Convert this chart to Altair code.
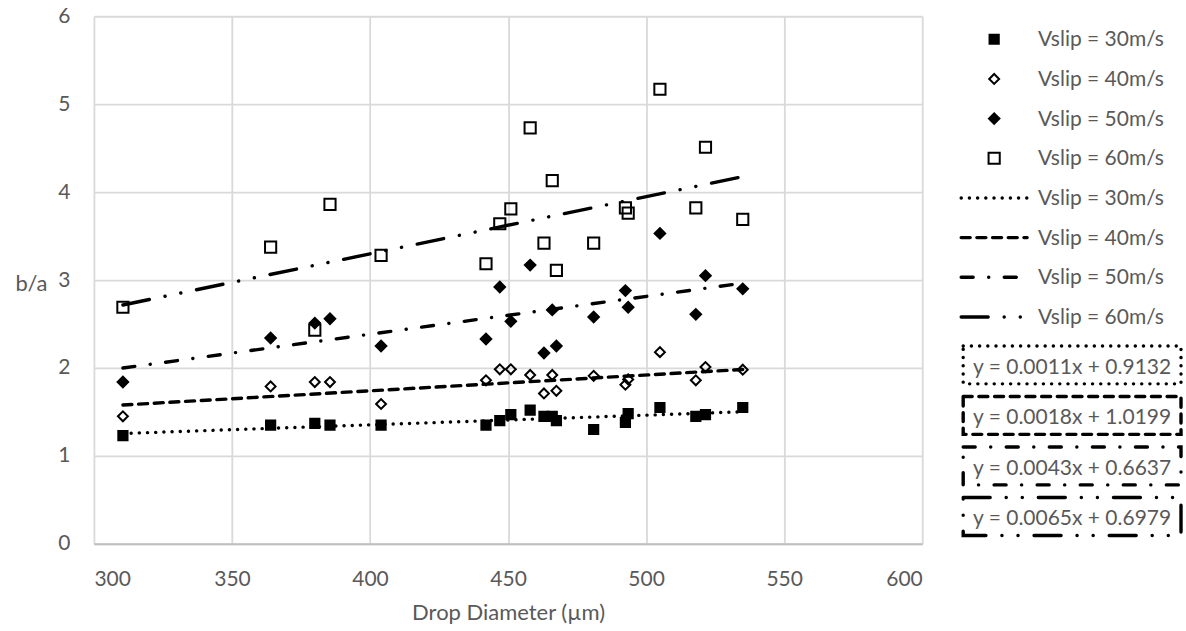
import altair as alt
import pandas as pd

# ---------------- data ----------------
diam = [310.5, 364, 380, 385.5, 404, 442, 447, 451, 458, 463, 466, 467.5,
        481, 492.5, 493.5, 505, 518, 521.5, 535]
ba_30 = [1.23, 1.35, 1.37, 1.35, 1.35, 1.35, 1.40, 1.47, 1.52, 1.45, 1.45, 1.40,
         1.30, 1.38, 1.48, 1.55, 1.45, 1.47, 1.55]
ba_40 = [1.45, 1.79, 1.84, 1.84, 1.59, 1.86, 1.985, 1.985, 1.92, 1.71, 1.92, 1.74,
         1.91, 1.81, 1.87, 2.18, 1.86, 2.01, 1.98]
ba_50 = [1.84, 2.34, 2.51, 2.56, 2.25, 2.33, 2.92, 2.53, 3.17, 2.17, 2.66, 2.25,
         2.58, 2.88, 2.69, 3.53, 2.61, 3.05, 2.90]
ba_60 = [2.69, 3.375, 2.43, 3.86, 3.28, 3.185, 3.64, 3.81, 4.73, 3.42, 4.13, 3.11,
         3.42, 3.82, 3.76, 5.17, 3.82, 4.51, 3.69]

series = ["Vslip = 30m/s", "Vslip = 40m/s", "Vslip = 50m/s", "Vslip = 60m/s"]
slopes = [0.0011, 0.0018, 0.0043, 0.0065]
intercepts = [0.9132, 1.0199, 0.6637, 0.6979]
equations = ["y = 0.0011x + 0.9132", "y = 0.0018x + 1.0199",
             "y = 0.0043x + 0.6637", "y = 0.0065x + 0.6979"]

x_ticks = [300, 350, 400, 450, 500, 550, 600]
y_ticks = [0, 1, 2, 3, 4, 5, 6]

# ---------------- tables ----------------
pts = pd.DataFrame([
    {"series": s, "diam": d, "ba": v}
    for s, vals in zip(series, [ba_30, ba_40, ba_50, ba_60])
    for d, v in zip(diam, vals)
])
trend = pd.DataFrame([
    {"series": s, "diam": d, "slope": m, "intercept": c}
    for s, m, c in zip(series, slopes, intercepts)
    for d in (min(diam), max(diam))
])
legend_rows = pd.DataFrame(
    [{"key": "p%d" % i, "kind": "pt", "series": s, "label": s} for i, s in enumerate(series)]
    + [{"key": "l%d" % i, "kind": "ln", "series": s, "label": s} for i, s in enumerate(series)]
)
eq_rows = pd.DataFrame({"series": series, "eq": equations})

# ---------------- shared styling ----------------
FONT = "Lato"
GRAY = "#595959"
LW = 3.4
dashes = [[0.1, 8.1], [9, 6.7], [12, 15.5, 0.1, 15.5], [27, 16, 0.1, 16, 0.1, 16]]
shape_scale = alt.Scale(domain=series, range=["square", "diamond", "diamond", "square"])
fill_scale = alt.Scale(domain=series, range=["black", "transparent", "black", "transparent"])
size_scale = alt.Scale(domain=series, range=[85, 125, 150, 100])
dash_scale = alt.Scale(domain=series, range=dashes)

x_enc = alt.X("diam:Q", scale=alt.Scale(domain=[300, 600], nice=False, zero=False),
              axis=alt.Axis(values=x_ticks, title="Drop Diameter (µm)", format="d",
                            labelPadding=25, titlePadding=13,
                            domain=True, domainColor="#bfbfbf", domainWidth=2))

points = alt.Chart(pts).mark_point(filled=True, stroke="black", strokeWidth=2, opacity=1).encode(
    x=x_enc,
    y=alt.Y("ba:Q", scale=alt.Scale(domain=[0, 6], nice=False),
            axis=alt.Axis(values=y_ticks, title="b/a", format="d", labelPadding=24,
                          titleAngle=0, titleAlign="right", titleBaseline="middle",
                          titleX=-47, titleY=267)),
    shape=alt.Shape("series:N", scale=shape_scale, legend=None),
    fill=alt.Fill("series:N", scale=fill_scale, legend=None),
    size=alt.Size("series:N", scale=size_scale, legend=None),
)

lines = alt.Chart(trend).transform_calculate(
    fit="datum.slope * datum.diam + datum.intercept"
).mark_line(color="black", strokeWidth=LW, strokeCap="round").encode(
    x="diam:Q",
    y="fit:Q",
    strokeDash=alt.StrokeDash("series:N", scale=dash_scale, legend=None),
    detail="series:N",
)

main = alt.layer(points, lines).properties(width=829, height=528)

# ---------------- side legend ----------------
SIDE_W = 264
DX = 19
leg_y = alt.Y("key:N", scale=alt.Scale(type="point", domain=list(legend_rows["key"]), padding=0.58),
              axis=None)
leg_base = alt.Chart(legend_rows)
leg_pts = leg_base.transform_filter("datum.kind == 'pt'").mark_point(
    filled=True, stroke="black", strokeWidth=2, opacity=1).encode(
    x=alt.value(53 + DX), y=leg_y,
    shape=alt.Shape("series:N", scale=shape_scale, legend=None),
    fill=alt.Fill("series:N", scale=fill_scale, legend=None),
    size=alt.Size("series:N", scale=size_scale, legend=None),
)
leg_lines = leg_base.transform_filter("datum.kind == 'ln'").mark_rule(
    color="black", strokeWidth=LW, strokeCap="round").encode(
    x=alt.value(20 + DX), x2=alt.value(86 + DX), y=leg_y,
    strokeDash=alt.StrokeDash("series:N", scale=dash_scale, legend=None),
)
leg_text = leg_base.mark_text(font=FONT, fontSize=21, color=GRAY, align="left",
                              baseline="middle", dy=1).encode(
    x=alt.value(97 + DX), y=leg_y, text="label:N")
legend_panel = alt.layer(leg_pts, leg_lines, leg_text).properties(width=SIDE_W, height=324)

eq_y = alt.Y("eq:N", scale=alt.Scale(type="band", domain=equations,
                                     paddingInner=0.25, paddingOuter=0.118), axis=None)
eq_base = alt.Chart(eq_rows)
eq_boxes = [
    eq_base.transform_filter(alt.datum.series == s).mark_rect(
        filled=False, stroke="black", strokeWidth=LW, strokeCap="round", strokeDash=d
    ).encode(x=alt.value(22 + DX), x2=alt.value(240 + DX), y=eq_y)
    for s, d in zip(series, dashes)
]
eq_text = eq_base.mark_text(font=FONT, fontSize=21, color=GRAY, align="center",
                            baseline="middle", dy=3).encode(
    x=alt.value(131 + DX), y=eq_y, text="eq:N")
eq_panel = alt.layer(*eq_boxes, eq_text).properties(width=SIDE_W, height=201.6)

side = alt.vconcat(legend_panel, eq_panel, spacing=0)

chart = alt.hconcat(main, side, spacing=0).properties(
    padding={"left": 14, "top": 5, "right": 0, "bottom": 0}
).configure_view(stroke=None).configure_axis(
    labelFont=FONT, titleFont=FONT, labelColor=GRAY, titleColor=GRAY,
    labelFontSize=21, titleFontSize=22, titleFontWeight="normal",
    gridColor="#d9d9d9", gridWidth=1.8, ticks=False, tickSize=0, domain=False,
).configure_concat(spacing=0)

chart.save("out.html", embed_options={"renderer": "svg", "actions": False})
